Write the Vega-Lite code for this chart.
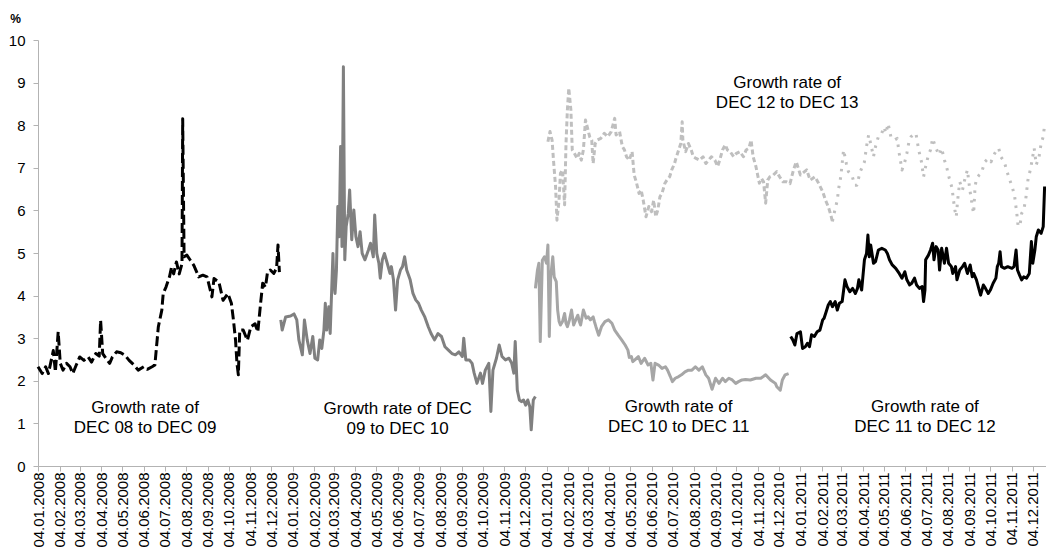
{
  "$schema": "https://vega.github.io/schema/vega-lite/v6.json",
  "autosize": "none",
  "width": 1008,
  "height": 426,
  "padding": {"left": 38, "top": 40, "right": 0, "bottom": 89},
  "background": "white",
  "config": {"view": {"stroke": null}, "font": "Liberation Sans"},
  "datasets": {
    "s1": [
      {"date":"2008-01-04","rate":2.33},{"date":"2008-01-10","rate":2.17},{"date":"2008-01-15","rate":2.33},{"date":"2008-01-19","rate":2.17},
      {"date":"2008-01-26","rate":2.71},{"date":"2008-01-29","rate":2.21},{"date":"2008-02-02","rate":3.15},{"date":"2008-02-05","rate":2.41},
      {"date":"2008-02-09","rate":2.25},{"date":"2008-02-14","rate":2.41},{"date":"2008-02-19","rate":2.33},{"date":"2008-02-23","rate":2.17},
      {"date":"2008-02-28","rate":2.37},{"date":"2008-03-04","rate":2.56},{"date":"2008-03-10","rate":2.48},{"date":"2008-03-16","rate":2.56},
      {"date":"2008-03-21","rate":2.44},{"date":"2008-03-27","rate":2.64},{"date":"2008-04-01","rate":2.58},{"date":"2008-04-03","rate":3.42},
      {"date":"2008-04-06","rate":2.64},{"date":"2008-04-11","rate":2.52},{"date":"2008-04-16","rate":2.41},{"date":"2008-04-20","rate":2.56},
      {"date":"2008-04-26","rate":2.68},{"date":"2008-05-02","rate":2.66},{"date":"2008-05-08","rate":2.60},{"date":"2008-05-14","rate":2.48},
      {"date":"2008-05-21","rate":2.37},{"date":"2008-05-27","rate":2.25},{"date":"2008-06-04","rate":2.33},{"date":"2008-06-09","rate":2.27},
      {"date":"2008-06-16","rate":2.33},{"date":"2008-06-20","rate":2.37},{"date":"2008-06-25","rate":3.27},{"date":"2008-06-30","rate":3.66},
      {"date":"2008-07-02","rate":4.05},{"date":"2008-07-06","rate":4.20},{"date":"2008-07-11","rate":4.44},{"date":"2008-07-14","rate":4.67},
      {"date":"2008-07-17","rate":4.51},{"date":"2008-07-21","rate":4.79},{"date":"2008-07-25","rate":4.51},{"date":"2008-07-29","rate":4.75},
      {"date":"2008-07-30","rate":8.15},{"date":"2008-08-01","rate":4.91},{"date":"2008-08-05","rate":4.95},{"date":"2008-08-10","rate":4.83},
      {"date":"2008-08-15","rate":4.71},{"date":"2008-08-22","rate":4.44},{"date":"2008-08-28","rate":4.48},{"date":"2008-09-03","rate":4.44},
      {"date":"2008-09-10","rate":3.97},{"date":"2008-09-13","rate":4.40},{"date":"2008-09-20","rate":4.32},{"date":"2008-09-26","rate":3.89},
      {"date":"2008-10-03","rate":4.05},{"date":"2008-10-08","rate":3.82},{"date":"2008-10-11","rate":3.42},{"date":"2008-10-14","rate":2.95},
      {"date":"2008-10-16","rate":2.41},{"date":"2008-10-18","rate":2.14},{"date":"2008-10-20","rate":3.19},{"date":"2008-10-25","rate":3.19},
      {"date":"2008-10-31","rate":2.95},{"date":"2008-11-05","rate":3.27},{"date":"2008-11-11","rate":3.34},{"date":"2008-11-15","rate":3.15},
      {"date":"2008-11-19","rate":3.82},{"date":"2008-11-22","rate":4.29},{"date":"2008-11-26","rate":4.20},{"date":"2008-11-29","rate":4.56},
      {"date":"2008-12-03","rate":4.60},{"date":"2008-12-08","rate":4.52},{"date":"2008-12-12","rate":4.65},{"date":"2008-12-14","rate":5.19},
      {"date":"2008-12-16","rate":4.55}
    ],
    "s2": [
      {"date":"2008-12-18","rate":3.43},{"date":"2008-12-20","rate":3.19},{"date":"2008-12-25","rate":3.50},{"date":"2009-01-01","rate":3.52},
      {"date":"2009-01-06","rate":3.57},{"date":"2009-01-10","rate":3.43},{"date":"2009-01-13","rate":2.96},{"date":"2009-01-18","rate":2.61},
      {"date":"2009-01-21","rate":3.43},{"date":"2009-01-25","rate":2.96},{"date":"2009-01-29","rate":2.64},{"date":"2009-02-02","rate":3.04},
      {"date":"2009-02-05","rate":2.53},{"date":"2009-02-09","rate":2.49},{"date":"2009-02-12","rate":2.96},{"date":"2009-02-15","rate":2.76},
      {"date":"2009-02-18","rate":3.19},{"date":"2009-02-20","rate":3.82},{"date":"2009-02-22","rate":3.19},{"date":"2009-02-25","rate":3.74},
      {"date":"2009-02-27","rate":3.11},{"date":"2009-03-03","rate":4.99},{"date":"2009-03-04","rate":4.37},{"date":"2009-03-06","rate":4.05},
      {"date":"2009-03-08","rate":4.60},{"date":"2009-03-10","rate":6.09},{"date":"2009-03-12","rate":5.38},{"date":"2009-03-14","rate":7.50},
      {"date":"2009-03-16","rate":5.15},{"date":"2009-03-18","rate":9.37},{"date":"2009-03-20","rate":4.84},{"date":"2009-03-22","rate":5.62},
      {"date":"2009-03-25","rate":5.93},{"date":"2009-03-27","rate":6.48},{"date":"2009-03-30","rate":5.31},{"date":"2009-04-02","rate":6.01},
      {"date":"2009-04-05","rate":5.38},{"date":"2009-04-08","rate":5.15},{"date":"2009-04-11","rate":5.50},{"date":"2009-04-14","rate":4.99},
      {"date":"2009-04-18","rate":4.84},{"date":"2009-04-23","rate":5.07},{"date":"2009-04-26","rate":5.23},{"date":"2009-04-30","rate":4.91},
      {"date":"2009-05-02","rate":5.89},{"date":"2009-05-05","rate":4.99},{"date":"2009-05-08","rate":4.76},{"date":"2009-05-10","rate":4.41},
      {"date":"2009-05-13","rate":4.84},{"date":"2009-05-16","rate":4.99},{"date":"2009-05-20","rate":4.76},{"date":"2009-05-24","rate":4.52},
      {"date":"2009-05-26","rate":4.68},{"date":"2009-05-29","rate":4.37},{"date":"2009-06-01","rate":3.66},{"date":"2009-06-04","rate":4.37},
      {"date":"2009-06-08","rate":4.60},{"date":"2009-06-11","rate":4.68},{"date":"2009-06-14","rate":4.91},{"date":"2009-06-17","rate":4.60},
      {"date":"2009-06-22","rate":4.37},{"date":"2009-06-26","rate":4.05},{"date":"2009-06-30","rate":3.90},{"date":"2009-07-04","rate":3.82},
      {"date":"2009-07-08","rate":3.66},{"date":"2009-07-13","rate":3.50},{"date":"2009-07-18","rate":3.27},{"date":"2009-07-22","rate":3.11},
      {"date":"2009-07-27","rate":2.96},{"date":"2009-08-01","rate":3.11},{"date":"2009-08-06","rate":3.04},{"date":"2009-08-11","rate":2.80},
      {"date":"2009-08-16","rate":2.72},{"date":"2009-08-21","rate":2.64},{"date":"2009-08-26","rate":2.61},{"date":"2009-08-31","rate":2.68},
      {"date":"2009-09-05","rate":2.57},{"date":"2009-09-07","rate":3.00},{"date":"2009-09-10","rate":2.49},{"date":"2009-09-15","rate":2.49},
      {"date":"2009-09-19","rate":2.41},{"date":"2009-09-22","rate":2.18},{"date":"2009-09-26","rate":1.94},{"date":"2009-10-01","rate":2.18},
      {"date":"2009-10-04","rate":1.94},{"date":"2009-10-08","rate":2.25},{"date":"2009-10-13","rate":2.41},{"date":"2009-10-16","rate":1.28},
      {"date":"2009-10-19","rate":2.25},{"date":"2009-10-24","rate":2.53},{"date":"2009-10-28","rate":2.84},{"date":"2009-11-01","rate":2.57},
      {"date":"2009-11-06","rate":2.49},{"date":"2009-11-11","rate":2.53},{"date":"2009-11-15","rate":2.41},{"date":"2009-11-18","rate":2.18},
      {"date":"2009-11-20","rate":2.92},{"date":"2009-11-23","rate":1.78},{"date":"2009-11-26","rate":1.55},{"date":"2009-11-29","rate":1.51},
      {"date":"2009-12-02","rate":1.55},{"date":"2009-12-05","rate":1.43},{"date":"2009-12-08","rate":1.55},{"date":"2009-12-11","rate":1.39},
      {"date":"2009-12-13","rate":0.85},{"date":"2009-12-16","rate":1.55},{"date":"2009-12-19","rate":1.63}
    ],
    "s3": [
      {"date":"2009-12-19","rate":4.17},{"date":"2009-12-22","rate":4.60},{"date":"2009-12-24","rate":4.76},{"date":"2009-12-26","rate":2.92},
      {"date":"2009-12-29","rate":4.83},{"date":"2010-01-01","rate":4.91},{"date":"2010-01-04","rate":4.76},{"date":"2010-01-06","rate":5.19},
      {"date":"2010-01-08","rate":3.04},{"date":"2010-01-10","rate":4.44},{"date":"2010-01-13","rate":4.91},{"date":"2010-01-15","rate":4.44},
      {"date":"2010-01-18","rate":4.33},{"date":"2010-01-20","rate":3.66},{"date":"2010-01-22","rate":3.40},{"date":"2010-01-24","rate":3.31},{"date":"2010-01-27","rate":3.39},
      {"date":"2010-01-30","rate":3.58},{"date":"2010-02-01","rate":3.35},{"date":"2010-02-03","rate":3.27},{"date":"2010-02-06","rate":3.43},{"date":"2010-02-09","rate":3.66},
      {"date":"2010-02-12","rate":3.31},{"date":"2010-02-15","rate":3.43},{"date":"2010-02-18","rate":3.54},{"date":"2010-02-20","rate":3.40},{"date":"2010-02-22","rate":3.31},
      {"date":"2010-02-26","rate":3.66},{"date":"2010-03-02","rate":3.47},{"date":"2010-03-05","rate":3.50},{"date":"2010-03-08","rate":3.43},
      {"date":"2010-03-12","rate":3.50},{"date":"2010-03-14","rate":3.38},{"date":"2010-03-16","rate":3.27},{"date":"2010-03-20","rate":3.07},{"date":"2010-03-24","rate":3.27},
      {"date":"2010-03-29","rate":3.39},{"date":"2010-04-03","rate":3.43},{"date":"2010-04-08","rate":3.35},{"date":"2010-04-12","rate":3.19},
      {"date":"2010-04-17","rate":3.07},{"date":"2010-04-22","rate":2.96},{"date":"2010-04-27","rate":2.84},{"date":"2010-05-01","rate":2.72},
      {"date":"2010-05-03","rate":2.55},{"date":"2010-05-06","rate":2.57},{"date":"2010-05-08","rate":2.45},{"date":"2010-05-11","rate":2.49},{"date":"2010-05-16","rate":2.57},{"date":"2010-05-20","rate":2.41},
      {"date":"2010-05-25","rate":2.53},{"date":"2010-05-30","rate":2.37},{"date":"2010-06-03","rate":2.41},{"date":"2010-06-06","rate":2.02},
      {"date":"2010-06-09","rate":2.41},{"date":"2010-06-14","rate":2.37},{"date":"2010-06-19","rate":2.29},{"date":"2010-06-24","rate":2.33},
      {"date":"2010-06-27","rate":2.25},{"date":"2010-07-01","rate":2.10},{"date":"2010-07-04","rate":1.98},{"date":"2010-07-08","rate":2.06},
      {"date":"2010-07-13","rate":2.10},{"date":"2010-07-17","rate":2.14},{"date":"2010-07-22","rate":2.21},{"date":"2010-07-27","rate":2.25},
      {"date":"2010-08-01","rate":2.25},{"date":"2010-08-06","rate":2.33},{"date":"2010-08-11","rate":2.25},{"date":"2010-08-16","rate":2.33},
      {"date":"2010-08-21","rate":2.14},{"date":"2010-08-25","rate":2.06},{"date":"2010-08-30","rate":1.80},{"date":"2010-09-04","rate":2.06},
      {"date":"2010-09-09","rate":1.94},{"date":"2010-09-14","rate":2.06},{"date":"2010-09-18","rate":1.98},{"date":"2010-09-23","rate":2.06},
      {"date":"2010-09-28","rate":2.02},{"date":"2010-10-03","rate":1.94},{"date":"2010-10-07","rate":1.98},{"date":"2010-10-12","rate":2.02},
      {"date":"2010-10-17","rate":2.03},{"date":"2010-10-24","rate":2.02},{"date":"2010-11-01","rate":2.06},{"date":"2010-11-08","rate":2.06},
      {"date":"2010-11-15","rate":2.14},{"date":"2010-11-22","rate":2.02},{"date":"2010-11-29","rate":1.94},{"date":"2010-12-01","rate":1.86},
      {"date":"2010-12-06","rate":1.78},{"date":"2010-12-09","rate":2.02},{"date":"2010-12-13","rate":2.14},{"date":"2010-12-18","rate":2.17}
    ],
    "s4": [
      {"date":"2010-12-21","rate":3.04},{"date":"2010-12-24","rate":2.96},{"date":"2010-12-27","rate":2.84},{"date":"2010-12-30","rate":3.11},
      {"date":"2011-01-04","rate":3.15},{"date":"2011-01-07","rate":2.76},{"date":"2011-01-11","rate":2.80},{"date":"2011-01-14","rate":2.88},
      {"date":"2011-01-17","rate":2.80},{"date":"2011-01-20","rate":3.08},{"date":"2011-01-24","rate":3.04},{"date":"2011-01-28","rate":3.15},
      {"date":"2011-02-01","rate":3.19},{"date":"2011-02-05","rate":3.43},{"date":"2011-02-07","rate":3.47},{"date":"2011-02-10","rate":3.62},
      {"date":"2011-02-13","rate":3.78},{"date":"2011-02-16","rate":3.86},{"date":"2011-02-19","rate":3.74},{"date":"2011-02-23","rate":3.86},
      {"date":"2011-02-26","rate":3.66},{"date":"2011-03-01","rate":3.82},{"date":"2011-03-05","rate":3.86},{"date":"2011-03-09","rate":4.37},
      {"date":"2011-03-12","rate":4.21},{"date":"2011-03-16","rate":4.09},{"date":"2011-03-20","rate":4.17},{"date":"2011-03-24","rate":4.05},
      {"date":"2011-03-27","rate":4.17},{"date":"2011-03-29","rate":4.37},{"date":"2011-04-02","rate":4.13},{"date":"2011-04-06","rate":4.84},
      {"date":"2011-04-09","rate":4.99},{"date":"2011-04-11","rate":5.42},{"date":"2011-04-13","rate":4.91},{"date":"2011-04-15","rate":5.19},
      {"date":"2011-04-19","rate":4.76},{"date":"2011-04-22","rate":4.80},{"date":"2011-04-26","rate":5.07},{"date":"2011-05-01","rate":5.11},
      {"date":"2011-05-06","rate":5.07},{"date":"2011-05-09","rate":4.99},{"date":"2011-05-12","rate":4.84},{"date":"2011-05-16","rate":4.72},
      {"date":"2011-05-21","rate":4.64},{"date":"2011-05-26","rate":4.52},{"date":"2011-05-30","rate":4.41},{"date":"2011-06-03","rate":4.56},
      {"date":"2011-06-06","rate":4.37},{"date":"2011-06-10","rate":4.25},{"date":"2011-06-13","rate":4.29},{"date":"2011-06-17","rate":4.41},
      {"date":"2011-06-20","rate":4.25},{"date":"2011-06-24","rate":4.17},{"date":"2011-06-28","rate":4.21},{"date":"2011-06-30","rate":3.86},
      {"date":"2011-07-02","rate":4.13},{"date":"2011-07-03","rate":4.84},{"date":"2011-07-07","rate":4.95},{"date":"2011-07-10","rate":5.07},
      {"date":"2011-07-13","rate":5.23},{"date":"2011-07-15","rate":4.84},{"date":"2011-07-18","rate":5.15},{"date":"2011-07-21","rate":5.07},
      {"date":"2011-07-23","rate":4.60},{"date":"2011-07-26","rate":5.11},{"date":"2011-07-30","rate":4.76},{"date":"2011-08-02","rate":5.11},
      {"date":"2011-08-05","rate":4.76},{"date":"2011-08-09","rate":4.68},{"date":"2011-08-11","rate":4.52},{"date":"2011-08-15","rate":4.68},
      {"date":"2011-08-17","rate":4.37},{"date":"2011-08-21","rate":4.60},{"date":"2011-08-25","rate":4.68},{"date":"2011-08-28","rate":4.76},
      {"date":"2011-09-01","rate":4.52},{"date":"2011-09-05","rate":4.72},{"date":"2011-09-08","rate":4.44},{"date":"2011-09-10","rate":4.52},
      {"date":"2011-09-14","rate":4.37},{"date":"2011-09-18","rate":4.13},{"date":"2011-09-20","rate":4.01},{"date":"2011-09-24","rate":4.25},
      {"date":"2011-09-27","rate":4.17},{"date":"2011-10-01","rate":4.05},{"date":"2011-10-04","rate":4.13},{"date":"2011-10-08","rate":4.29},
      {"date":"2011-10-12","rate":4.41},{"date":"2011-10-14","rate":4.68},{"date":"2011-10-16","rate":4.76},{"date":"2011-10-18","rate":5.03},
      {"date":"2011-10-20","rate":4.68},{"date":"2011-10-24","rate":4.64},{"date":"2011-10-29","rate":4.68},{"date":"2011-11-04","rate":4.64},
      {"date":"2011-11-07","rate":4.68},{"date":"2011-11-10","rate":5.07},{"date":"2011-11-12","rate":4.60},{"date":"2011-11-15","rate":4.48},
      {"date":"2011-11-18","rate":4.37},{"date":"2011-11-21","rate":4.44},{"date":"2011-11-25","rate":4.41},{"date":"2011-11-29","rate":4.52},
      {"date":"2011-12-02","rate":5.27},{"date":"2011-12-04","rate":4.76},{"date":"2011-12-07","rate":5.07},{"date":"2011-12-09","rate":5.38},
      {"date":"2011-12-12","rate":5.54},{"date":"2011-12-16","rate":5.46},{"date":"2011-12-19","rate":5.62},{"date":"2011-12-21","rate":6.56}
    ],
    "s5": [
      {"date":"2010-01-06","rate":7.61},{"date":"2010-01-09","rate":7.85},{"date":"2010-01-12","rate":7.65},{"date":"2010-01-14","rate":7.18},
      {"date":"2010-01-17","rate":6.56},{"date":"2010-01-19","rate":5.77},{"date":"2010-01-22","rate":6.24},{"date":"2010-01-24","rate":6.87},
      {"date":"2010-01-27","rate":6.95},{"date":"2010-01-29","rate":6.40},{"date":"2010-01-30","rate":6.13},{"date":"2010-02-01","rate":7.57},
      {"date":"2010-02-03","rate":8.36},{"date":"2010-02-05","rate":8.87},{"date":"2010-02-08","rate":8.36},{"date":"2010-02-10","rate":7.42},
      {"date":"2010-02-13","rate":7.34},{"date":"2010-02-17","rate":7.22},{"date":"2010-02-20","rate":7.34},{"date":"2010-02-23","rate":7.18},
      {"date":"2010-02-26","rate":7.42},{"date":"2010-03-01","rate":8.12},{"date":"2010-03-04","rate":7.93},{"date":"2010-03-07","rate":7.73},
      {"date":"2010-03-10","rate":7.65},{"date":"2010-03-12","rate":7.10},{"date":"2010-03-15","rate":7.57},{"date":"2010-03-18","rate":7.65},
      {"date":"2010-03-23","rate":7.69},{"date":"2010-03-28","rate":7.81},{"date":"2010-04-02","rate":7.73},{"date":"2010-04-07","rate":7.85},
      {"date":"2010-04-12","rate":8.16},{"date":"2010-04-14","rate":7.77},{"date":"2010-04-19","rate":7.85},{"date":"2010-04-23","rate":7.50},
      {"date":"2010-04-26","rate":7.42},{"date":"2010-04-29","rate":7.26},{"date":"2010-05-03","rate":7.18},{"date":"2010-05-07","rate":7.38},
      {"date":"2010-05-10","rate":6.83},{"date":"2010-05-13","rate":6.67},{"date":"2010-05-17","rate":6.40},{"date":"2010-05-20","rate":6.48},
      {"date":"2010-05-23","rate":6.24},{"date":"2010-05-27","rate":5.85},{"date":"2010-05-31","rate":6.09},{"date":"2010-06-04","rate":5.97},
      {"date":"2010-06-07","rate":6.24},{"date":"2010-06-10","rate":5.85},{"date":"2010-06-13","rate":6.01},{"date":"2010-06-16","rate":6.32},
      {"date":"2010-06-19","rate":6.40},{"date":"2010-06-23","rate":6.63},{"date":"2010-06-26","rate":6.71},{"date":"2010-06-30","rate":6.79},
      {"date":"2010-07-03","rate":6.95},{"date":"2010-07-07","rate":7.10},{"date":"2010-07-09","rate":7.22},{"date":"2010-07-13","rate":7.42},
      {"date":"2010-07-16","rate":7.57},{"date":"2010-07-18","rate":8.08},{"date":"2010-07-19","rate":7.65},{"date":"2010-07-23","rate":7.38},
      {"date":"2010-07-27","rate":7.57},{"date":"2010-07-31","rate":7.42},{"date":"2010-08-03","rate":7.26},{"date":"2010-08-07","rate":7.22},
      {"date":"2010-08-12","rate":7.18},{"date":"2010-08-17","rate":7.26},{"date":"2010-08-21","rate":7.10},{"date":"2010-08-25","rate":7.18},
      {"date":"2010-08-29","rate":7.26},{"date":"2010-09-03","rate":7.18},{"date":"2010-09-07","rate":7.03},{"date":"2010-09-10","rate":7.18},
      {"date":"2010-09-14","rate":7.42},{"date":"2010-09-18","rate":7.54},{"date":"2010-09-21","rate":7.42},{"date":"2010-09-25","rate":7.38},
      {"date":"2010-09-30","rate":7.26},{"date":"2010-10-04","rate":7.34},{"date":"2010-10-09","rate":7.38},{"date":"2010-10-14","rate":7.26},
      {"date":"2010-10-18","rate":7.42},{"date":"2010-10-22","rate":7.46},{"date":"2010-10-25","rate":7.65},{"date":"2010-10-28","rate":7.26},
      {"date":"2010-11-01","rate":7.03},{"date":"2010-11-04","rate":6.79},{"date":"2010-11-06","rate":6.64},{"date":"2010-11-09","rate":6.75},
      {"date":"2010-11-12","rate":6.67},{"date":"2010-11-15","rate":6.17},{"date":"2010-11-18","rate":6.71},{"date":"2010-11-21","rate":6.79},
      {"date":"2010-11-26","rate":6.83},{"date":"2010-12-01","rate":6.91},{"date":"2010-12-05","rate":6.79},{"date":"2010-12-10","rate":6.67},
      {"date":"2010-12-15","rate":6.67},{"date":"2010-12-20","rate":6.63},{"date":"2010-12-25","rate":6.95},{"date":"2010-12-29","rate":7.14},
      {"date":"2011-01-04","rate":6.83},{"date":"2011-01-13","rate":6.95},{"date":"2011-01-18","rate":6.71},{"date":"2011-01-25","rate":6.79},
      {"date":"2011-01-30","rate":6.64},{"date":"2011-02-05","rate":6.44},{"date":"2011-02-09","rate":6.24},{"date":"2011-02-13","rate":6.09},
      {"date":"2011-02-16","rate":5.93},{"date":"2011-02-19","rate":5.74},{"date":"2011-02-22","rate":5.97},{"date":"2011-02-26","rate":6.24},
      {"date":"2011-02-28","rate":6.52},{"date":"2011-03-03","rate":6.79},{"date":"2011-03-07","rate":7.42},{"date":"2011-03-11","rate":7.10},
      {"date":"2011-03-14","rate":6.91},{"date":"2011-03-19","rate":6.83},{"date":"2011-03-23","rate":6.59},{"date":"2011-03-26","rate":6.59},
      {"date":"2011-03-31","rate":6.91},{"date":"2011-04-06","rate":7.14},{"date":"2011-04-09","rate":7.50},{"date":"2011-04-12","rate":7.77},
      {"date":"2011-04-15","rate":7.57},{"date":"2011-04-19","rate":7.26},{"date":"2011-04-22","rate":7.50},{"date":"2011-04-26","rate":7.73},
      {"date":"2011-04-30","rate":7.77},{"date":"2011-05-04","rate":7.96},{"date":"2011-05-07","rate":7.81},{"date":"2011-05-10","rate":8.04},
      {"date":"2011-05-14","rate":7.73},{"date":"2011-05-19","rate":7.65},{"date":"2011-05-23","rate":7.69},{"date":"2011-05-26","rate":7.34},
      {"date":"2011-05-30","rate":6.95},{"date":"2011-06-03","rate":7.14},{"date":"2011-06-06","rate":7.34},{"date":"2011-06-09","rate":7.61},
      {"date":"2011-06-12","rate":7.73},{"date":"2011-06-15","rate":7.77},{"date":"2011-06-19","rate":7.81},{"date":"2011-06-23","rate":7.42},
      {"date":"2011-06-27","rate":7.14},{"date":"2011-06-30","rate":6.79},{"date":"2011-07-03","rate":7.03},{"date":"2011-07-07","rate":7.30},
      {"date":"2011-07-10","rate":7.42},{"date":"2011-07-13","rate":7.69},{"date":"2011-07-17","rate":7.50},{"date":"2011-07-22","rate":7.30},
      {"date":"2011-07-26","rate":7.46},{"date":"2011-07-30","rate":7.18},{"date":"2011-08-02","rate":7.03},{"date":"2011-08-06","rate":6.75},
      {"date":"2011-08-10","rate":6.52},{"date":"2011-08-12","rate":6.24},{"date":"2011-08-14","rate":6.01},{"date":"2011-08-16","rate":5.85},
      {"date":"2011-08-18","rate":6.24},{"date":"2011-08-21","rate":6.67},{"date":"2011-08-25","rate":6.48},{"date":"2011-08-28","rate":6.71},
      {"date":"2011-09-01","rate":6.95},{"date":"2011-09-04","rate":6.55},{"date":"2011-09-06","rate":6.32},{"date":"2011-09-09","rate":6.01},
      {"date":"2011-09-10","rate":5.93},{"date":"2011-09-12","rate":6.55},{"date":"2011-09-14","rate":6.75},{"date":"2011-09-18","rate":6.83},
      {"date":"2011-09-21","rate":6.87},{"date":"2011-09-26","rate":7.14},{"date":"2011-10-01","rate":7.22},{"date":"2011-10-05","rate":7.14},
      {"date":"2011-10-09","rate":7.30},{"date":"2011-10-13","rate":7.42},{"date":"2011-10-16","rate":7.46},{"date":"2011-10-19","rate":7.26},
      {"date":"2011-10-24","rate":7.14},{"date":"2011-10-28","rate":6.91},{"date":"2011-11-01","rate":6.71},{"date":"2011-11-05","rate":6.52},
      {"date":"2011-11-08","rate":6.32},{"date":"2011-11-11","rate":5.93},{"date":"2011-11-13","rate":5.62},{"date":"2011-11-16","rate":5.69},
      {"date":"2011-11-18","rate":5.93},{"date":"2011-11-21","rate":6.01},{"date":"2011-11-24","rate":6.28},{"date":"2011-11-27","rate":6.71},
      {"date":"2011-12-01","rate":6.99},{"date":"2011-12-03","rate":7.18},{"date":"2011-12-06","rate":7.46},{"date":"2011-12-09","rate":7.07},
      {"date":"2011-12-13","rate":7.26},{"date":"2011-12-16","rate":7.57},{"date":"2011-12-19","rate":7.73},{"date":"2011-12-21","rate":8.00}
    ],
    "notes": [
      {"date":"2008-06-06","rate":1.37,"label":"Growth rate of\nDEC 08 to DEC 09"},
      {"date":"2009-06-04","rate":1.34,"label":"Growth rate of DEC\n09 to DEC 10"},
      {"date":"2010-07-13","rate":1.38,"label":"Growth rate of\nDEC 10 to DEC 11"},
      {"date":"2011-07-02","rate":1.38,"label":"Growth rate of\nDEC 11 to DEC 12"},
      {"date":"2010-12-16","rate":8.98,"label":"Growth rate of\nDEC 12 to DEC 13"}
    ]
  },
  "encoding": {
    "x": {
      "field": "date", "type": "temporal",
      "scale": {"type": "utc", "domain": [{"year":2008,"month":1,"date":4,"utc":true},{"year":2011,"month":12,"date":23,"utc":true}]},
      "axis": {
        "title": null, "grid": false, "format": "%d.%m.%Y",
        "labelAngle": 270, "labelAlign": "right", "labelBaseline": "middle",
        "labelFontSize": 15, "labelColor": "#000000", "labelPadding": 1, "labelOverlap": false, "labelFlush": false, "labelBound": false,
        "tickSize": 5, "tickColor": "#b3b3b3", "domainColor": "#b3b3b3", "domainWidth": 1, "tickWidth": 1,
        "values": [
          {"year":2008,"month":1,"date":4,"utc":true},{"year":2008,"month":2,"date":4,"utc":true},{"year":2008,"month":3,"date":4,"utc":true},{"year":2008,"month":4,"date":4,"utc":true},
          {"year":2008,"month":5,"date":4,"utc":true},{"year":2008,"month":6,"date":4,"utc":true},{"year":2008,"month":7,"date":4,"utc":true},{"year":2008,"month":8,"date":4,"utc":true},
          {"year":2008,"month":9,"date":4,"utc":true},{"year":2008,"month":10,"date":4,"utc":true},{"year":2008,"month":11,"date":4,"utc":true},{"year":2008,"month":12,"date":4,"utc":true},
          {"year":2009,"month":1,"date":4,"utc":true},{"year":2009,"month":2,"date":4,"utc":true},{"year":2009,"month":3,"date":4,"utc":true},{"year":2009,"month":4,"date":4,"utc":true},
          {"year":2009,"month":5,"date":4,"utc":true},{"year":2009,"month":6,"date":4,"utc":true},{"year":2009,"month":7,"date":4,"utc":true},{"year":2009,"month":8,"date":4,"utc":true},
          {"year":2009,"month":9,"date":4,"utc":true},{"year":2009,"month":10,"date":4,"utc":true},{"year":2009,"month":11,"date":4,"utc":true},{"year":2009,"month":12,"date":4,"utc":true},
          {"year":2010,"month":1,"date":4,"utc":true},{"year":2010,"month":2,"date":4,"utc":true},{"year":2010,"month":3,"date":4,"utc":true},{"year":2010,"month":4,"date":4,"utc":true},
          {"year":2010,"month":5,"date":4,"utc":true},{"year":2010,"month":6,"date":4,"utc":true},{"year":2010,"month":7,"date":4,"utc":true},{"year":2010,"month":8,"date":4,"utc":true},
          {"year":2010,"month":9,"date":4,"utc":true},{"year":2010,"month":10,"date":4,"utc":true},{"year":2010,"month":11,"date":4,"utc":true},{"year":2010,"month":12,"date":4,"utc":true},
          {"year":2011,"month":1,"date":4,"utc":true},{"year":2011,"month":2,"date":4,"utc":true},{"year":2011,"month":3,"date":4,"utc":true},{"year":2011,"month":4,"date":4,"utc":true},
          {"year":2011,"month":5,"date":4,"utc":true},{"year":2011,"month":6,"date":4,"utc":true},{"year":2011,"month":7,"date":4,"utc":true},{"year":2011,"month":8,"date":4,"utc":true},
          {"year":2011,"month":9,"date":4,"utc":true},{"year":2011,"month":10,"date":4,"utc":true},{"year":2011,"month":11,"date":4,"utc":true},{"year":2011,"month":12,"date":4,"utc":true}
        ]
      }
    },
    "y": {
      "field": "rate", "type": "quantitative",
      "scale": {"domain": [0, 10], "nice": false, "zero": true},
      "axis": {
        "values": [0,1,2,3,4,5,6,7,8,9,10], "grid": false,
        "labelFontSize": 15, "labelColor": "#000000", "labelPadding": 8,
        "tickSize": 5, "tickColor": "#b3b3b3", "domainColor": "#b3b3b3",
        "title": "%", "titleAngle": 0, "titleFontSize": 12, "titleFontWeight": "bold", "titleColor": "#000000",
        "titleX": -23, "titleY": -22, "titleAlign": "center", "titleBaseline": "middle"
      }
    }
  },
  "layer": [
    {"data": {"name": "s1"}, "mark": {"type": "line", "color": "#000000", "strokeWidth": 3, "strokeDash": [10, 4], "strokeJoin": "round"}},
    {"data": {"name": "s2"}, "mark": {"type": "line", "color": "#808080", "strokeWidth": 3, "strokeJoin": "round"}},
    {"data": {"name": "s3"}, "mark": {"type": "line", "color": "#a6a6a6", "strokeWidth": 3, "strokeJoin": "round"}},
    {"data": {"name": "s4"}, "mark": {"type": "line", "color": "#000000", "strokeWidth": 3, "strokeJoin": "round"}},
    {"data": {"name": "s5"}, "transform": [{"filter": {"field": "date", "lte": {"year": 2011, "month": 2, "date": 19, "utc": true}}}], "mark": {"type": "line", "color": "#bfbfbf", "strokeWidth": 3, "strokeDash": [5, 3], "strokeJoin": "round"}},
    {"data": {"name": "s5"}, "transform": [{"filter": {"field": "date", "gte": {"year": 2011, "month": 2, "date": 19, "utc": true}}}], "mark": {"type": "line", "color": "#bfbfbf", "strokeWidth": 3, "strokeDash": [2.5, 6], "strokeJoin": "round"}},
    {"data": {"name": "notes"}, "mark": {"type": "text", "fontSize": 17, "font": "Liberation Sans", "color": "#000000", "lineBreak": "\n", "lineHeight": 20, "align": "center", "baseline": "middle"},
     "encoding": {"text": {"field": "label"}}}
  ]
}
